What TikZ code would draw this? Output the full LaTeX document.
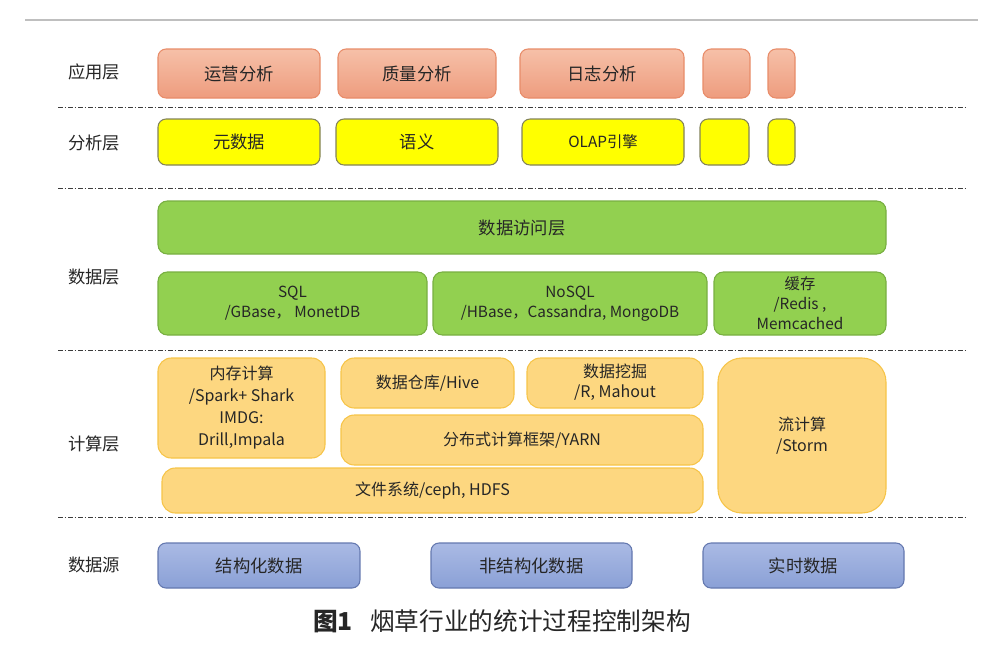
\documentclass[tikz,border=0pt]{standalone}
\usepackage{fontspec}
\setmainfont{Noto Sans CJK SC}
\newfontfamily\capfont{Noto Sans CJK SC}
\usepackage{tikz}
\usetikzlibrary{positioning,calc}
\usepackage{xcolor}

\definecolor{appfillA}{RGB}{246,192,168}
\definecolor{appfillB}{RGB}{238,156,126}
\definecolor{appline}{RGB}{232,140,105}
\definecolor{anafill}{RGB}{255,255,0}
\definecolor{analine}{RGB}{130,130,90}
\definecolor{datafill}{RGB}{146,208,80}
\definecolor{dataline}{RGB}{120,175,65}
\definecolor{compfill}{RGB}{253,215,128}
\definecolor{compline}{RGB}{246,196,72}
\definecolor{srcfillA}{RGB}{170,186,228}
\definecolor{srcfillB}{RGB}{138,160,214}
\definecolor{srcline}{RGB}{100,120,175}
\definecolor{sepline}{RGB}{60,60,60}

\begin{document}
\begin{tikzpicture}[x=0.75pt, y=-0.75pt,
    appbox/.style={draw=appline, top color=appfillA, bottom color=appfillB, rounded corners=6pt, line width=0.8pt},
    anabox/.style={draw=analine, fill=anafill, rounded corners=6pt, line width=0.8pt},
    databox/.style={draw=dataline, fill=datafill, rounded corners=7pt, line width=0.8pt},
    compbox/.style={draw=compline, fill=compfill, rounded corners=10pt, line width=0.8pt},
    srcbox/.style={draw=srcline, top color=srcfillA, bottom color=srcfillB, rounded corners=6pt, line width=0.8pt},
    sep/.style={draw=sepline, line width=0.75pt, dash pattern=on 3.5pt off 1.5pt on 1pt off 1.5pt},
    lbl/.style={font=\fontsize{13}{15}\selectfont, text=black!85},
    txt/.style={font=\fontsize{13}{15}\selectfont, align=center, text=black!85},
    small/.style={font=\fontsize{11.5}{15}\selectfont, align=center, text=black!85}]
    \useasboundingbox (0,0) rectangle (1000,654);

    % top rule
    \draw[black!25, line width=0.8pt] (25,20) -- (978,20);

    % layer separators
    \draw[sep] (58,107) -- (965,107);
    \draw[sep] (58,188) -- (965,188);
    \draw[sep] (58,350) -- (965,350);
    \draw[sep] (58,517) -- (965,517);

    % layer labels
    \node[lbl] (yingyong) at (94,72) {应用层};
    \node[lbl] (fenxi) at (94,143) {分析层};
    \node[lbl] (shuju) at (94,277) {数据层};
    \node[lbl] (jisuan) at (94,444) {计算层};
    \node[lbl] (shujuyuan) at (94,565) {数据源};

    % application layer
    \draw[appbox] (158,49) rectangle (320,98);
    \node[txt] (yunying) at (239,73.5) {运营分析};
    \draw[appbox] (338,49) rectangle (496,98);
    \node[txt] (zhiliang) at (417,73.5) {质量分析};
    \draw[appbox] (520,49) rectangle (684,98);
    \node[txt] (rizhi) at (602,73.5) {日志分析};
    \draw[appbox] (703,49) rectangle (750,98);
    \draw[appbox] (768,49) rectangle (795,98);

    % analysis layer
    \draw[anabox] (158,119) rectangle (320,165);
    \node[txt] (yuanshuju) at (239,142) {元数据};
    \draw[anabox] (336,119) rectangle (498,165);
    \node[txt] (yuyi) at (417,142) {语义};
    \draw[anabox] (522,119) rectangle (684,165);
    \node[small] (olap) at (603,142) {OLAP引擎};
    \draw[anabox] (700,119) rectangle (749,165);
    \draw[anabox] (768,119) rectangle (795,165);

    % data layer
    \draw[databox] (158,201) rectangle (886,254);
    \node[txt] (fangwen) at (522,227.5) {数据访问层};
    \draw[databox] (158,272) rectangle (427,335);
    \node[small] (sql) at (292.5,303.5) {SQL\\/GBase， MonetDB};
    \draw[databox] (433,272) rectangle (707,335);
    \node[small] (nosql) at (570,303.5) {NoSQL\\/HBase，Cassandra, MongoDB};
    \draw[databox] (714,272) rectangle (886,335);
    \node[small] (huancun) at (800,303.5) {缓存\\/Redis ,\\Memcached};

    % compute layer
    \draw[compbox] (158,358) rectangle (325,458);
    \node[small, font=\fontsize{12}{16.5}\selectfont] (neicun) at (241.5,408) {内存计算\\/Spark+ Shark\\IMDG:\\Drill,Impala};
    \draw[compbox] (341,358) rectangle (514,408);
    \node[small, font=\fontsize{12}{15}\selectfont] (cangku) at (427.5,383) {数据仓库/Hive};
    \draw[compbox] (527,358) rectangle (703,408);
    \node[small, font=\fontsize{12}{15}\selectfont] (wajue) at (615,382) {数据挖掘\\/R, Mahout};
    \draw[compbox] (341,415) rectangle (703,465);
    \node[small, font=\fontsize{12}{15}\selectfont] (yarn) at (522,440) {分布式计算框架/YARN};
    \draw[compbox] (162,468) rectangle (703,513);
    \node[small, font=\fontsize{12}{15}\selectfont] (hdfs) at (432.5,490.5) {文件系统/ceph, HDFS};
    \draw[compbox, rounded corners=18pt] (718,358) rectangle (886,513);
    \node[small, font=\fontsize{12}{16}\selectfont] (storm) at (802,435.5) {流计算\\/Storm};

    % data sources
    \draw[srcbox] (158,543) rectangle (360,588);
    \node[txt] (jiegou) at (259,565.5) {结构化数据};
    \draw[srcbox] (431,543) rectangle (632,588);
    \node[txt] (feijiegou) at (531.5,565.5) {非结构化数据};
    \draw[srcbox] (703,543) rectangle (904,588);
    \node[txt] (shishi) at (803.5,565.5) {实时数据};

    % caption
    \node[font=\capfont\fontsize{18.5}{22}\selectfont, text=black!85] (caption) at (502,621) {\textbf{图1}\hspace{0.7em}烟草行业的统计过程控制架构};
\end{tikzpicture}
\end{document}
